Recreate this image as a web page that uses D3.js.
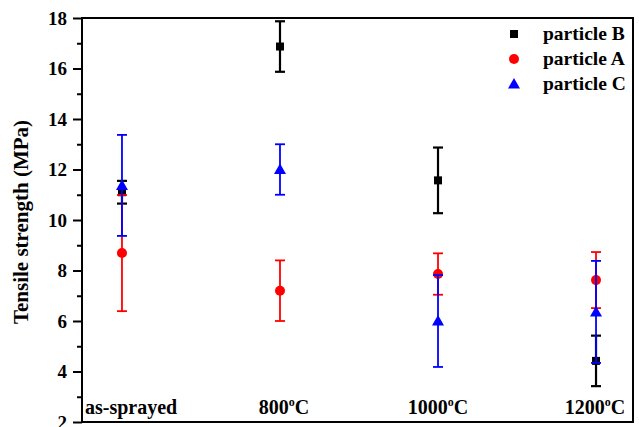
<!DOCTYPE html>
<html><head><meta charset="utf-8">
<script src="https://cdn.jsdelivr.net/npm/d3@7"></script>
<style>body{margin:0;background:#fff}svg{display:block}text{font-family:"Liberation Serif","Times New Roman",serif;font-weight:bold}</style>
</head><body><svg id="c" width="639" height="427"></svg>
<script>
const categories = ["as-sprayed", "800", "1000", "1200"];
const bMean = [11.1, 16.87, 11.57, 4.42];
const bErr  = [0.45, 1.0, 1.3, 1.0];
const aMean = [8.69, 7.2, 7.86, 7.62];
const aErr  = [2.3, 1.2, 0.82, 1.11];
const cMean = [11.37, 12.0, 6.0, 6.36];
const cErr  = [2.0, 1.0, 1.82, 2.02];
const yMajorTicks = [2, 4, 6, 8, 10, 12, 14, 16, 18];
const yMinorTicks = [3, 5, 7, 9, 11, 13, 15, 17];
const series = [
  {name: "particle B", mean: bMean, err: bErr, color: "#000000", shape: "square"},
  {name: "particle A", mean: aMean, err: aErr, color: "#ff0000", shape: "circle"},
  {name: "particle C", mean: cMean, err: cErr, color: "#0000ff", shape: "triangle"}
];

const svg = d3.select("#c");
const L = 82, R = 633, T = 18, B = 422;
const x = d3.scaleLinear().domain([0.747, 4.234]).range([L, R]);
const y = d3.scaleLinear().domain([2, 18]).range([B, T]);

// y axis
const yAxis = d3.axisLeft(y).tickValues(yMajorTicks).tickSize(9).tickPadding(6).tickFormat(d3.format("d"));
const ga = svg.append("g").attr("transform", `translate(${L},0)`).call(yAxis);
ga.select(".domain").remove();
ga.selectAll("line").attr("stroke", "#000").attr("stroke-width", 2);
ga.selectAll("text").attr("font-size", 19).attr("fill", "#000").style("font-family", "'Liberation Serif',serif").style("font-weight", "bold");
const gm = svg.append("g").attr("transform", `translate(${L},0)`).call(d3.axisLeft(y).tickValues(yMinorTicks).tickSize(5).tickFormat(""));
gm.select(".domain").remove();
gm.selectAll("line").attr("stroke", "#000").attr("stroke-width", 2);

// frame
svg.append("rect").attr("x", L).attr("y", T).attr("width", R - L).attr("height", B - T)
  .attr("fill", "none").attr("stroke", "#000").attr("stroke-width", 2);

// y title
svg.append("text").attr("transform", `translate(28,222) rotate(-90)`)
  .attr("text-anchor", "middle").attr("font-size", 21).text("Tensile strength (MPa)");

// category labels
const catShift = [0, 4, 0, -1];
const catG = svg.append("g");
categories.forEach((c, i) => {
  const t = catG.append("text").attr("x", i === 0 ? 85 : x(i + 1) + catShift[i]).attr("y", 414)
    .attr("text-anchor", i === 0 ? "start" : "middle").attr("font-size", 20);
  if (i === 0) { t.text(c); }
  else {
    t.append("tspan").text(c);
    t.append("tspan").attr("dy", -8).attr("font-size", 12).text("o");
    t.append("tspan").attr("dy", 8).text("C");
  }
});

// series
const cap = 5;
series.forEach(s => {
  const g = svg.append("g");
  s.mean.forEach((m, i) => {
    const cx = x(i + 1), y1 = y(m + s.err[i]), y0 = y(m - s.err[i]);
    const sw = s.shape === "square" ? 2.2 : 1.8;
    g.append("line").attr("x1", cx).attr("x2", cx).attr("y1", y1).attr("y2", y0).attr("stroke", s.color).attr("stroke-width", sw);
    [y1, y0].forEach(yy => g.append("line").attr("x1", cx - cap).attr("x2", cx + cap).attr("y1", yy).attr("y2", yy).attr("stroke", s.color).attr("stroke-width", sw));
    drawMarker(g, s.shape, cx, y(m), s.color);
  });
});

function drawMarker(g, shape, cx, cy, color) {
  if (shape === "square") g.append("rect").attr("x", cx - 4).attr("y", cy - 4).attr("width", 8).attr("height", 8).attr("fill", color);
  else if (shape === "circle") g.append("circle").attr("cx", cx).attr("cy", cy).attr("r", 5).attr("fill", color);
  else g.append("path").attr("d", `M${cx},${cy - 6}L${cx + 6},${cy + 4.5}L${cx - 6},${cy + 4.5}Z`).attr("fill", color);
}

// legend
const lg = svg.append("g");
series.forEach((s, i) => {
  const yy = 34 + i * 25;
  drawMarker(lg, s.shape, 514, yy, s.color);
  lg.append("text").attr("x", 543).attr("y", yy + 6).attr("font-size", 19.5).text(s.name);
});
</script></body></html>
